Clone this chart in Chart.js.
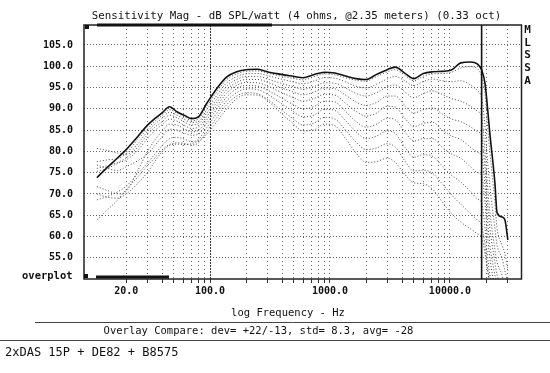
<!DOCTYPE html>
<html><head><meta charset="utf-8">
<script src="https://cdn.jsdelivr.net/npm/chart.js@4.4.1/dist/chart.umd.min.js"></script>
<style>html,body{margin:0;padding:0;background:#fff;}#wrap{position:relative;width:550px;height:373px;}</style>
</head><body><div id="wrap"><canvas id="c" width="550" height="373"></canvas></div>
<script>
// ---- data ----
const freqHz = [11.4, 14, 17, 20, 25, 30, 35, 40, 46, 53, 62, 70, 80, 94, 114, 138, 167, 200, 250, 310, 390, 480, 600, 730, 900, 1100, 1350, 1650, 2000, 2450, 3000, 3500, 4200, 5000, 6000, 7200, 8600, 10300, 12300, 14800, 17000, 18400, 19600, 20300, 21500, 23700, 24700, 27100, 28700, 30400];
const curve0 = [73.8, 76.3, 78.5, 80.4, 83.5, 86.1, 87.8, 89.1, 90.5, 89.3, 88.4, 87.7, 88.1, 91.3, 94.8, 97.5, 98.7, 99.2, 99.3, 98.6, 98.1, 97.7, 97.3, 98.0, 98.6, 98.4, 97.7, 97.1, 96.9, 98.1, 99.2, 99.8, 98.4, 97.1, 98.3, 98.7, 98.8, 99.1, 100.8, 101.0, 100.5, 99.1, 96.0, 92.0, 84.3, 72.6, 65.6, 64.6, 63.9, 59.2];
const curve1 = [77.6, 78.0, 78.3, 79.5, 82.8, 85.2, 87.2, 88.5, 89.8, 89.0, 88.0, 87.2, 87.6, 90.6, 94.0, 96.9, 98.2, 98.8, 98.9, 98.3, 97.7, 97.2, 96.8, 97.5, 98.2, 98.0, 97.3, 96.7, 96.5, 97.6, 98.7, 99.2, 97.9, 96.6, 97.7, 98.2, 98.3, 98.6, 99.6, 99.9, 99.4, 97.5, 93.5, 88.0, 80.0, 68.0, 62.0, 58.0, 56.0, 52.0];
const curve2 = [80.7, 80.2, 79.6, 79.2, 81.8, 84.6, 86.5, 87.8, 89.2, 88.5, 87.4, 86.8, 87.0, 89.8, 93.2, 96.1, 97.6, 98.2, 98.3, 97.7, 97.0, 96.4, 95.9, 96.5, 97.3, 97.2, 96.3, 95.3, 94.9, 95.8, 97.0, 97.6, 96.6, 95.4, 96.4, 97.0, 96.6, 96.4, 96.6, 95.6, 94.2, 92.5, 86.0, 80.0, 72.0, 62.0, 58.0, 55.0, 52.0, 49.0];
const curve3 = [76.0, 76.6, 77.4, 78.5, 81.0, 83.9, 85.8, 87.0, 88.5, 87.9, 86.8, 86.2, 86.5, 89.0, 92.3, 95.3, 96.9, 97.6, 97.6, 96.9, 96.0, 95.3, 94.6, 95.2, 96.1, 96.0, 94.9, 93.6, 93.0, 93.8, 95.2, 95.6, 94.0, 92.6, 93.6, 94.2, 93.4, 92.4, 91.8, 90.6, 89.4, 88.0, 80.0, 74.0, 66.0, 57.0, 54.0, 51.0, 48.0, 46.0];
const curve4 = [75.3, 76.0, 77.2, 78.0, 80.2, 83.0, 85.0, 86.3, 87.6, 87.1, 86.0, 85.4, 85.7, 88.2, 91.5, 94.5, 96.2, 96.9, 96.9, 96.1, 95.0, 94.1, 93.3, 93.9, 94.9, 94.7, 93.2, 91.6, 90.8, 91.5, 93.0, 93.0, 90.8, 89.0, 89.8, 90.2, 88.8, 87.6, 87.0, 85.8, 84.6, 83.5, 76.0, 70.0, 62.0, 54.0, 51.0, 48.0, 46.0, 44.0];
const curve5 = [71.7, 70.8, 70.0, 70.6, 75.5, 79.9, 82.8, 84.8, 86.4, 86.2, 85.2, 84.6, 84.9, 87.4, 90.7, 93.7, 95.5, 96.2, 96.1, 95.2, 93.9, 92.8, 91.8, 92.4, 93.4, 93.2, 91.3, 89.4, 88.3, 89.0, 90.6, 90.4, 87.8, 85.8, 86.6, 86.8, 85.0, 83.6, 82.8, 81.0, 79.8, 78.8, 72.0, 66.0, 58.0, 51.0, 48.0, 46.0, 44.0, 42.0];
const curve6 = [76.8, 76.0, 75.5, 76.4, 77.8, 79.4, 81.5, 83.5, 85.2, 85.0, 84.2, 83.8, 84.0, 86.6, 89.9, 92.8, 94.7, 95.5, 95.3, 94.2, 92.6, 91.2, 90.0, 90.5, 91.8, 91.6, 89.4, 87.0, 85.7, 86.4, 87.8, 87.4, 84.6, 82.4, 83.0, 83.0, 81.0, 79.4, 78.4, 76.4, 75.0, 74.2, 68.0, 62.0, 55.0, 48.0, 46.0, 44.0, 42.0, 40.0];
const curve7 = [68.6, 69.4, 70.5, 71.8, 74.8, 77.2, 79.5, 81.4, 83.0, 83.3, 82.8, 82.3, 82.8, 85.6, 89.0, 91.9, 93.8, 94.7, 94.5, 93.2, 91.3, 89.6, 88.1, 88.5, 89.9, 89.6, 87.2, 84.6, 83.0, 83.6, 84.8, 84.2, 81.0, 78.6, 79.2, 78.8, 76.6, 74.4, 72.8, 70.6, 68.8, 67.8, 62.0, 57.0, 51.0, 46.0, 44.0, 42.0, 40.0, 38.0];
const curve8 = [63.9, 66.3, 68.6, 71.0, 74.0, 76.6, 78.6, 80.4, 81.6, 82.0, 81.8, 81.5, 82.0, 84.6, 88.0, 91.0, 93.0, 93.8, 93.5, 92.0, 89.8, 87.9, 86.2, 86.6, 88.0, 87.6, 85.0, 82.2, 80.4, 80.8, 81.8, 81.0, 77.8, 75.4, 75.6, 74.8, 72.4, 69.8, 67.6, 65.4, 63.8, 62.6, 58.0, 54.0, 49.0, 44.0, 42.0, 40.0, 38.0, 36.0];
const curve9 = [70.0, 69.2, 69.0, 70.0, 72.5, 75.0, 77.8, 80.0, 81.4, 81.7, 81.6, 81.8, 82.5, 84.0, 87.0, 90.0, 92.4, 93.3, 93.2, 91.6, 89.0, 86.8, 84.8, 85.0, 86.4, 86.0, 83.0, 79.6, 77.4, 77.6, 78.4, 77.4, 74.6, 72.6, 72.4, 71.0, 68.2, 65.4, 63.4, 61.8, 60.6, 59.8, 56.0, 53.0, 49.0, 44.0, 42.0, 40.0, 38.0, 36.0];

const yTickValues = [55, 60, 65, 70, 75, 80, 85, 90, 95, 100, 105];
const xGridValues = [20, 30, 40, 50, 60, 70, 80, 90, 100, 200, 300, 400, 500, 600, 700, 800, 900, 1000, 2000, 3000, 4000, 5000, 6000, 7000, 8000, 9000, 10000, 20000, 30000];
const xLabelValues = [20, 100, 1000, 10000];
const cursorHz = 18370;

const titleText = "Sensitivity Mag - dB SPL/watt (4 ohms, @2.35 meters) (0.33 oct)";
const xTitleText = "log Frequency - Hz";
const overlayText = "Overlay Compare: dev= +22/-13, std= 8.3, avg= -28";
const footerText = "2xDAS 15P + DE82 + B8575";
const sideLetters = ["M", "L", "S", "S", "A"];
const overplotText = "overplot";

// ---- chart ----
const curves = [curve0, curve1, curve2, curve3, curve4, curve5, curve6, curve7, curve8, curve9];
const MONO = '"DejaVu Sans Mono", monospace';

const datasets = curves.map((c, k) => ({
  label: 'curve' + k,
  data: freqHz.map((f, i) => ({ x: f, y: c[i] })),
  borderColor: k === 0 ? '#111' : '#4a4a4a',
  borderWidth: k === 0 ? 1.6 : 1,
  borderDash: k === 0 ? [] : [1, 2],
  pointRadius: 0,
  cubicInterpolationMode: 'monotone',
  fill: false,
  order: 10 - k
}));

const decor = {
  id: 'decor',
  beforeDraw(chart) {
    const c = chart.ctx;
    c.save(); c.fillStyle = '#fff'; c.fillRect(0, 0, chart.width, chart.height); c.restore();
  },
  afterDraw(chart) {
    const ctx = chart.ctx, a = chart.chartArea, xs = chart.scales.x;
    ctx.save();
    const line = (x1, y1, x2, y2) => { ctx.beginPath(); ctx.moveTo(x1, y1); ctx.lineTo(x2, y2); ctx.stroke(); };
    // frame
    ctx.strokeStyle = '#222'; ctx.lineWidth = 1.5;
    ctx.strokeRect(a.left, a.top, a.right - a.left, a.bottom - a.top);
    // cursor
    const cx = xs.getPixelForValue(cursorHz);
    ctx.strokeStyle = '#111'; ctx.lineWidth = 1.6;
    line(cx, a.top, cx, a.bottom);
    // scroll bars and markers
    ctx.fillStyle = '#111';
    ctx.fillRect(97, a.top - 1.5, 175, 3);
    ctx.fillRect(a.left + 1, a.top, 4, 4);
    ctx.fillRect(a.left, a.bottom - 5, 4, 4);
    ctx.fillRect(96, a.bottom - 3.5, 73, 3);
    // texts
    ctx.fillStyle = '#111';
    ctx.textBaseline = 'middle';
    ctx.textAlign = 'center';
    ctx.font = '10.8px ' + MONO;
    ctx.fillText(titleText, 296.5, 16.5);
    ctx.font = '10.5px ' + MONO;
    ctx.fillText(xTitleText, 288, 313);
    ctx.fillText(overlayText, 258.5, 331);
    ctx.font = 'bold 11px ' + MONO;
    const ly = [30.5, 43, 55.5, 68.5, 81.5];
    sideLetters.forEach((s, i) => ctx.fillText(s, 527.5, ly[i]));
    ctx.textAlign = 'left';
    ctx.font = '12px ' + MONO;
    ctx.fillText(footerText, 5, 353);
    ctx.font = 'bold 10.5px ' + MONO;
    ctx.fillText(overplotText, 22, 276);
    // separator lines
    ctx.strokeStyle = '#444'; ctx.lineWidth = 1;
    line(35, 322.5, 550, 322.5);
    line(0, 340.5, 550, 340.5);
    ctx.restore();
  }
};

new Chart(document.getElementById('c'), {
  type: 'line',
  data: { datasets },
  plugins: [decor],
  options: {
    responsive: false,
    animation: false,
    events: [],
    layout: { padding: { top: 25, right: 28.5, bottom: 0, left: 0 } },
    plugins: { legend: { display: false }, title: { display: false }, tooltip: { enabled: false } },
    scales: {
      x: {
        type: 'logarithmic', min: 8.9, max: 39500,
        afterBuildTicks: s => { s.ticks = xGridValues.map(v => ({ value: v })); },
        afterFit: s => { s.height = 94; },
        ticks: {
          autoSkip: false, maxRotation: 0, minRotation: 0, padding: 2, color: '#111',
          font: { family: MONO, size: 10, weight: 'bold' },
          callback: v => xLabelValues.includes(v) ? Number(v).toFixed(1) : ''
        },
        grid: {
          color: ctx => (ctx.tick && ctx.tick.value === 100) ? '#333' : '#666',
          lineWidth: 1, drawTicks: true, tickLength: 4, tickColor: '#333'
        },
        border: { display: false, dash: ctx => (ctx.tick && ctx.tick.value === 100) ? [2, 1] : [1, 3] }
      },
      y: {
        type: 'linear', min: 50, max: 109.7,
        afterBuildTicks: s => { s.ticks = yTickValues.map(v => ({ value: v })); },
        afterFit: s => { s.width = 84; },
        ticks: {
          padding: 11, color: '#111',
          font: { family: MONO, size: 10, weight: 'bold' },
          callback: v => Number(v).toFixed(1)
        },
        grid: { color: '#666', lineWidth: 1, drawTicks: false },
        border: { display: false, dash: [1, 2] }
      }
    }
  }
});
</script>
</body></html>
